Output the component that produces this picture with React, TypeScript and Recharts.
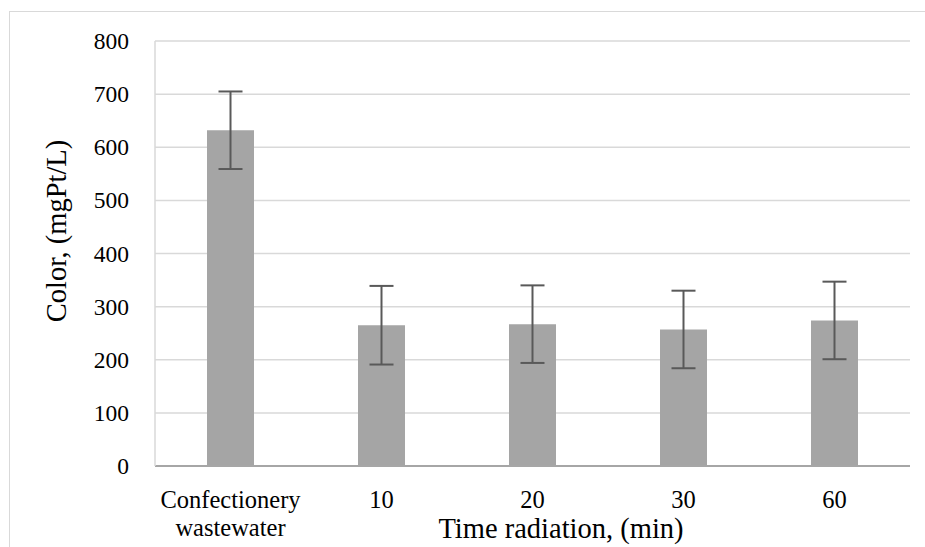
import { Bar, BarChart, CartesianGrid, ErrorBar, XAxis, YAxis } from "recharts"

const categories = ["Confectionery wastewater", "10", "20", "30", "60"]
const colorValues = [632, 265, 267, 257, 274]
const colorErrors = [73, 74, 73, 73, 73]
const yTicks = [0, 100, 200, 300, 400, 500, 600, 700, 800]

const data = categories.map((name, i) => ({
  name,
  color: colorValues[i],
  err: colorErrors[i],
}))

const FONT = "'Liberation Serif', 'Times New Roman', serif"

function renderXTick(props: any) {
  const { x, y, payload } = props
  const words = String(payload.value).split(" ")
  return (
    <g>
      <text
        x={x}
        y={y + 34}
        textAnchor="middle"
        fill="#000"
        style={{ fontFamily: FONT, fontSize: 24.5 }}
      >
        {words.map((w: string, i: number) => (
          <tspan key={i} x={x} dy={i === 0 ? 0 : 28}>
            {w}
          </tspan>
        ))}
      </text>
    </g>
  )
}

function renderYTick(props: any) {
  const { x, y, payload } = props
  return (
    <g>
      <text
        x={x}
        y={y}
        dy={8}
        textAnchor="end"
        fill="#000"
        style={{ fontFamily: FONT, fontSize: 23.5 }}
      >
        {payload.value}
      </text>
    </g>
  )
}

export default function App() {
  return (
    <div
      style={{
        position: "fixed",
        left: 0,
        top: 0,
        width: 925,
        height: 547,
        overflow: "hidden",
        background: "#fff",
        fontFamily: FONT,
      }}
    >
      <div
        style={{
          position: "absolute",
          left: 9,
          top: 11,
          width: 2000,
          height: 2000,
          borderTop: "1.5px solid #d9d9d9",
          borderLeft: "1.5px solid #d9d9d9",
        }}
      />
      <div style={{ position: "absolute", left: 0, top: 0 }}>
        <BarChart
          width={925}
          height={547}
          data={data}
          margin={{ top: 41, right: 15, left: 0, bottom: 0 }}
        >
          <CartesianGrid vertical={false} stroke="#d9d9d9" strokeWidth={1.5} />
          <XAxis
            dataKey="name"
            height={81}
            axisLine={{ stroke: "#a6a6a6", strokeWidth: 2 }}
            tickLine={false}
            tick={renderXTick}
            interval={0}
            label={{
              content: () => (
                <text x={561} y={538} textAnchor="middle" fill="#000" style={{ fontFamily: FONT, fontSize: 28.5 }}>
                  Time radiation, (min)
                </text>
              ),
            }}
          />
          <YAxis
            width={155}
            domain={[0, 800]}
            ticks={yTicks}
            interval={0}
            axisLine={{ stroke: "#d9d9d9", strokeWidth: 1.5 }}
            tickLine={false}
            tickMargin={20}
            tick={renderYTick}
            label={{
              content: () => (
                <text
                  x={66}
                  y={231}
                  transform="rotate(-90 66 231)"
                  textAnchor="middle"
                  fill="#000"
                  style={{ fontFamily: FONT, fontSize: 28.5 }}
                >
                  Color, (mgPt/L)
                </text>
              ),
            }}
          />
          <Bar dataKey="color" fill="#a5a5a5" barSize={47} isAnimationActive={false}>
            <ErrorBar dataKey="err" width={12} stroke="#595959" strokeWidth={2} />
          </Bar>
        </BarChart>
      </div>
    </div>
  )
}
